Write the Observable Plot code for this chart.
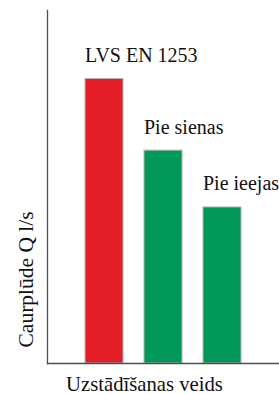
<!DOCTYPE html>
<html>
<head>
<meta charset="utf-8">
<script src="https://cdn.jsdelivr.net/npm/d3@7"></script>
<script src="https://cdn.jsdelivr.net/npm/@observablehq/plot@0.6"></script>
<style>
  html, body { margin: 0; padding: 0; background: #fff; }
  #chart svg { display: block; }
  #chart svg text { font-family: "Liberation Serif", "DejaVu Serif", serif !important; }
</style>
</head>
<body>
<div id="chart"></div>
<script>
const categories = ["LVS EN 1253", "Pie sienas", "Pie ieejas"];
const values = [80.6, 60.3, 44.2];
const colors = ["#e31e26", "#00995a", "#00995a"];
const xLabel = "Uzstādīšanas veids";
const yLabel = "Caurplūde Q l/s";

const data = categories.map((c, i) => ({name: c, value: values[i], color: colors[i]}));
const font = "Liberation Serif";

const chart = Plot.plot({
  width: 279,
  height: 394,
  marginTop: 10,
  marginBottom: 31,
  marginLeft: 47,
  marginRight: 0,
  style: {fontFamily: font, fontSize: "20px", background: "#fff"},
  x: {domain: categories, axis: null, paddingInner: 0.356, paddingOuter: 0.63, align: 0.5},
  y: {domain: [0, 100], axis: null},
  marks: [
    Plot.barY(data, {x: "name", y: "value", fill: d => d.color, stroke: "#b3b3b3", strokeWidth: 1}),
    Plot.text(data, {x: "name", y: "value", text: "name", textAnchor: "start", lineAnchor: "bottom",
      dx: -19.5, dy: -17, fontSize: 20, fontFamily: font, fill: "#111"}),
    Plot.frame({anchor: "left", stroke: "#4d4d4d", strokeWidth: 1.3}),
    Plot.frame({anchor: "bottom", stroke: "#4d4d4d", strokeWidth: 1.3}),
    Plot.text([xLabel], {frameAnchor: "bottom-left", text: d => d, textAnchor: "middle", lineAnchor: "bottom",
      dx: 97, dy: 27, fontSize: 20.7, fontFamily: font, fill: "#111"}),
    Plot.text([yLabel], {frameAnchor: "bottom-left", text: d => d, textAnchor: "start", lineAnchor: "bottom",
      rotate: -90, dx: -15, dy: -16, fontSize: 21.5, fontFamily: font, fill: "#111"})
  ]
});
document.getElementById("chart").appendChild(chart);
</script>
</body>
</html>
